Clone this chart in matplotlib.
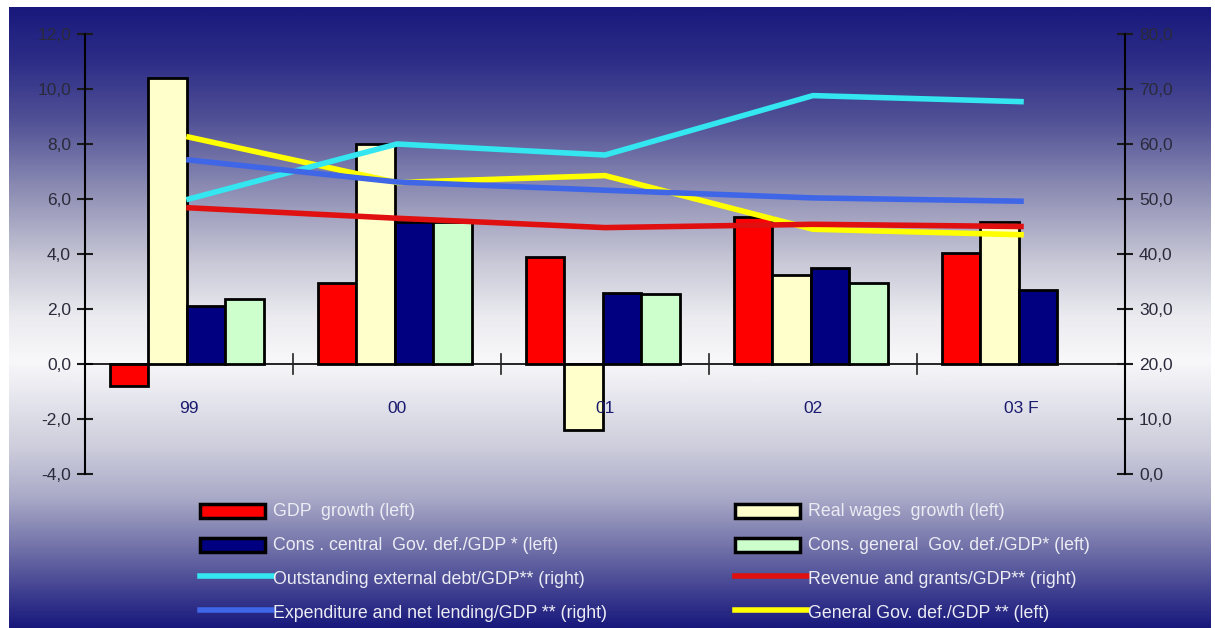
import matplotlib.pyplot as plt
import numpy as np
from matplotlib.colors import LinearSegmentedColormap
from matplotlib.patches import Rectangle
from matplotlib.lines import Line2D

plt.rcParams['font.family'] = ['Liberation Sans', 'DejaVu Sans']

# --- data ---
years = ['99', '00', '01', '02', '03 F']
gdp_growth = [-0.8, 2.95, 3.9, 5.35, 4.05]
real_wages = [10.4, 8.0, -2.4, 3.25, 5.15]
central_def = [2.1, 5.15, 2.6, 3.5, 2.7]
general_def_cons = [2.35, 5.15, 2.55, 2.95, np.nan]

ext_debt = [50.0, 60.0, 58.0, 68.8, 67.7]        # right axis
revenue = [48.4, 46.5, 44.8, 45.4, 45.0]         # right axis
expenditure = [57.1, 53.1, 51.6, 50.2, 49.6]     # right axis
general_def = [8.25, 6.6, 6.85, 4.9, 4.7]        # left axis

left_ticks = [-4, -2, 0, 2, 4, 6, 8, 10, 12]
right_ticks = [0, 10, 20, 30, 40, 50, 60, 70, 80]

bar_series = [
    (gdp_growth, '#ff0000', 'GDP  growth (left)'),
    (real_wages, '#ffffcc', 'Real wages  growth (left)'),
    (central_def, '#000080', 'Cons . central  Gov. def./GDP * (left)'),
    (general_def_cons, '#ccffcc', 'Cons. general  Gov. def./GDP* (left)'),
]
line_labels = {
    'debt': ('#33e6f0', 'Outstanding external debt/GDP** (right)'),
    'rev': ('#e01010', 'Revenue and grants/GDP** (right)'),
    'exp': ('#3f66e6', 'Expenditure and net lending/GDP ** (right)'),
    'gen': ('#ffff00', 'General Gov. def./GDP ** (left)'),
}

W, H = 1215, 628
fig = plt.figure(figsize=(W / 100, H / 100), dpi=100)
fig.patch.set_facecolor('white')

# gradient background (top -> bottom)
bg = fig.add_axes([9 / W, 0, (1211 - 9) / W, (H - 7) / H])
bg.set_axis_off()
grad = LinearSegmentedColormap.from_list('bg', [
    (0.0, '#19197d'), (0.085, '#2d2d87'), (0.18, '#505096'),
    (0.31, '#9696b9'), (0.41, '#c8c8d7'), (0.5, '#ebebf0'),
    (0.57, '#f8f8fa'), (0.63, '#e6e6ee'), (0.71, '#cdcddc'),
    (0.79, '#aaaac8'), (0.87, '#7373aa'), (0.955, '#37378c'),
    (1.0, '#19197d')])
bg.imshow(np.linspace(0, 1, 512).reshape(-1, 1), aspect='auto', cmap=grad,
          extent=[0, 1, 0, 1])

ax = fig.add_axes([85 / W, (H - 474) / H, 1040 / W, 440 / H])
ax.set_facecolor('none')
ax2 = ax.twinx()

x = np.arange(len(years))
bw = 0.185
for i, (vals, col, lab) in enumerate(bar_series):
    ax.bar(x + (i - 1.5) * bw - 0.01, vals, bw, color=col, edgecolor='black',
           linewidth=2, zorder=3)

ax.axhline(0, color='black', lw=1.2, zorder=2)
for b in np.arange(0.5, len(years) - 1, 1.0):
    ax.plot([b, b], [-0.35, 0.35], color='#222222', lw=1.2, zorder=2)

for i, lab in enumerate(years):
    ax.text(i, -1.62, lab, ha='center', va='center', color='#1a1a6e',
            fontsize=12.5)

ax2.plot(x, ext_debt, color=line_labels['debt'][0], lw=4, zorder=4)
ax2.plot(x, revenue, color=line_labels['rev'][0], lw=4, zorder=4)
ax2.plot(x, expenditure, color=line_labels['exp'][0], lw=4, zorder=4)
ax.plot(x, general_def, color=line_labels['gen'][0], lw=4, zorder=5)

ax.set_xlim(-0.5, len(years) - 0.5)
ax.set_ylim(-4, 12)
ax2.set_ylim(0, 80)
ax.set_yticks(left_ticks)
ax.set_yticklabels([f'{t:.1f}'.replace('.', ',') for t in left_ticks])
ax2.set_yticks(right_ticks)
ax2.set_yticklabels([f'{t:.1f}'.replace('.', ',') for t in right_ticks])
ax.set_xticks([])

for a in (ax, ax2):
    for s in ('top', 'bottom'):
        a.spines[s].set_visible(False)
    a.tick_params(axis='y', direction='inout', length=12, width=1.5,
                  colors='#1a1a1a', labelsize=12.5, labelcolor='#2a2a3a',
                  pad=4)
ax.spines['left'].set_linewidth(1.5)
ax.spines['right'].set_visible(False)
ax2.spines['left'].set_visible(False)
ax2.spines['right'].set_linewidth(1.5)

# legend drawn in figure pixels
rows = [511, 545, 579, 613]
cols = [200, 735]
entries = [
    ('bar', bar_series[0][1], bar_series[0][2]),
    ('bar', bar_series[1][1], bar_series[1][2]),
    ('bar', bar_series[2][1], bar_series[2][2]),
    ('bar', bar_series[3][1], bar_series[3][2]),
    ('line',) + line_labels['debt'],
    ('line',) + line_labels['rev'],
    ('line',) + line_labels['exp'],
    ('line',) + line_labels['gen'],
]
for k, (kind, col, lab) in enumerate(entries):
    px = cols[k % 2]
    py = rows[k // 2]
    if kind == 'bar':
        fig.add_artist(Rectangle(((px) / W, (H - py - 7) / H), 65 / W, 14 / H,
                                 transform=fig.transFigure, facecolor=col,
                                 edgecolor='black', linewidth=2.5))
    else:
        fig.add_artist(Line2D([px / W, (px + 72) / W],
                              [(H - py + 3) / H, (H - py + 3) / H],
                              transform=fig.transFigure, color=col, lw=4))
    fig.text((px + 73) / W, (H - py) / H, lab, color='#ececf4',
             fontsize=12.8, va='center', ha='left')

fig.savefig('out.png', dpi=100)
